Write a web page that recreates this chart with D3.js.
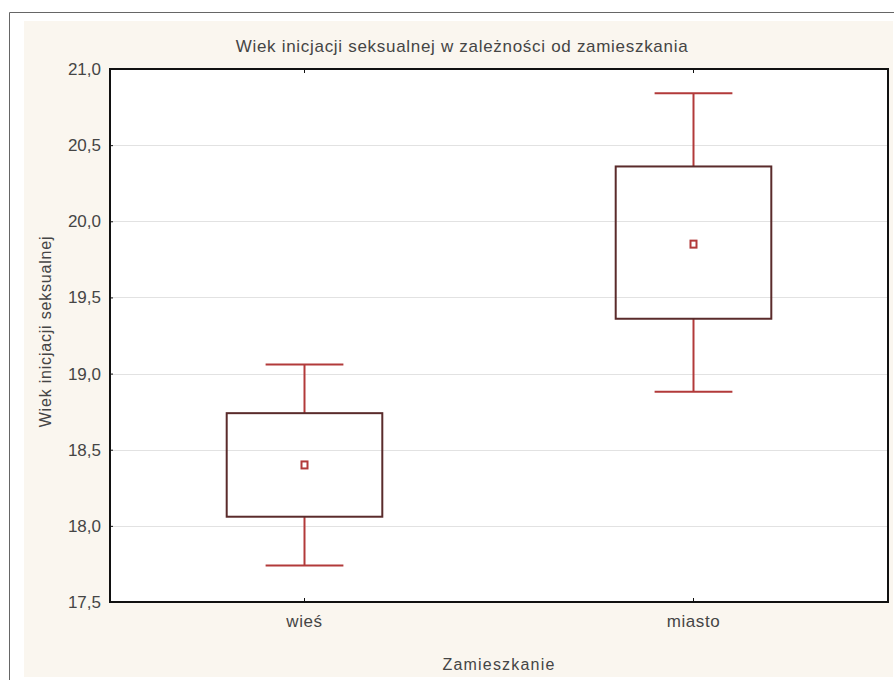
<!DOCTYPE html>
<html>
<head>
<meta charset="utf-8">
<script src="https://cdn.jsdelivr.net/npm/d3@7"></script>
<style>
  html, body { margin: 0; padding: 0; background: #ffffff; }
  svg { display: block; font-family: "Liberation Sans", Arial, sans-serif; }
</style>
</head>
<body>
<svg id="chart" width="894" height="680"></svg>
<script>
// Age of sexual initiation by place of residence: mean, mean ± SE (box), mean ± 1.96 SE (whiskers)
const categories = ["wieś", "miasto"];
const means      = [18.40, 19.85];
const boxLow     = [18.06, 19.36];
const boxHigh    = [18.74, 20.36];
const whiskLow   = [17.74, 18.88];
const whiskHigh  = [19.06, 20.84];
const yTicks     = [17.5, 18.0, 18.5, 19.0, 19.5, 20.0, 20.5, 21.0];

const titleText = "Wiek inicjacji seksualnej w zależności od zamieszkania";
const xTitle = "Zamieszkanie";
const yTitle = "Wiek inicjacji seksualnej";

const svg = d3.select("#chart");
const W = 894, H = 680;
const plot = { left: 110, top: 69, right: 888, bottom: 602 };
const textColor = "#454545";

// outer frame and panel background
svg.append("rect").attr("x", 24).attr("y", 21).attr("width", 869).attr("height", 656)
  .attr("fill", "#faf6ef");
svg.append("path").attr("d", `M9.5,${H} V12.5 H${W}`)
  .attr("fill", "none").attr("stroke", "#666").attr("stroke-width", 1);

const x = d3.scaleBand().domain(categories).range([plot.left, plot.right]).padding(0);
const y = d3.scaleLinear().domain([17.5, 21.0]).range([plot.bottom, plot.top]);

// plot area
svg.append("rect")
  .attr("x", plot.left).attr("y", plot.top)
  .attr("width", plot.right - plot.left).attr("height", plot.bottom - plot.top)
  .attr("fill", "#ffffff");

// horizontal gridlines
svg.append("g").selectAll("line").data(yTicks.slice(1, -1)).join("line")
  .attr("x1", plot.left).attr("x2", plot.right)
  .attr("y1", d => Math.round(y(d)) + 0.5).attr("y2", d => Math.round(y(d)) + 0.5)
  .attr("stroke", "#e2e2e2").attr("stroke-width", 1);

const fmt = d => d.toFixed(1).replace(".", ",");

// y axis
const yAxis = svg.append("g").attr("transform", `translate(${plot.left},0)`)
  .call(d3.axisLeft(y).tickValues(yTicks).tickFormat(fmt).tickSize(-3).tickPadding(9));
yAxis.select(".domain").remove();
yAxis.selectAll("line").attr("stroke", "#111");
yAxis.selectAll("text").attr("font-size", 17).attr("fill", textColor)
  .attr("font-family", "Liberation Sans, Arial, sans-serif");

// x axis
const xAxis = svg.append("g").attr("transform", `translate(0,${plot.bottom})`)
  .call(d3.axisBottom(x).tickSize(-4).tickPadding(13));
xAxis.select(".domain").remove();
xAxis.selectAll("line").attr("stroke", "#111");
xAxis.selectAll("text").attr("font-size", 17).attr("fill", textColor)
  .attr("letter-spacing", 0.6)
  .attr("font-family", "Liberation Sans, Arial, sans-serif");

// top ticks at category positions
svg.append("g").selectAll("line").data(categories).join("line")
  .attr("x1", d => x(d) + x.bandwidth() / 2).attr("x2", d => x(d) + x.bandwidth() / 2)
  .attr("y1", plot.top).attr("y2", plot.top + 4)
  .attr("stroke", "#111");

// plot border
svg.append("rect")
  .attr("x", plot.left).attr("y", plot.top)
  .attr("width", plot.right - plot.left).attr("height", plot.bottom - plot.top)
  .attr("fill", "none").attr("stroke", "#111").attr("stroke-width", 2);

const boxW = x.bandwidth() * 0.4;
const capW = x.bandwidth() * 0.2;
const red = "#b23a3a";
const brown = "#5a2b2b";

const groups = svg.append("g").selectAll("g").data(categories).join("g")
  .attr("transform", d => `translate(${x(d) + x.bandwidth() / 2},0)`);

// whisker stems
groups.append("line")
  .attr("x1", 0).attr("x2", 0)
  .attr("y1", (d, i) => y(whiskHigh[i])).attr("y2", (d, i) => y(boxHigh[i]))
  .attr("stroke", red).attr("stroke-width", 2);
groups.append("line")
  .attr("x1", 0).attr("x2", 0)
  .attr("y1", (d, i) => y(boxLow[i])).attr("y2", (d, i) => y(whiskLow[i]))
  .attr("stroke", red).attr("stroke-width", 2);
// caps
groups.append("line")
  .attr("x1", -capW / 2).attr("x2", capW / 2)
  .attr("y1", (d, i) => y(whiskHigh[i])).attr("y2", (d, i) => y(whiskHigh[i]))
  .attr("stroke", red).attr("stroke-width", 2);
groups.append("line")
  .attr("x1", -capW / 2).attr("x2", capW / 2)
  .attr("y1", (d, i) => y(whiskLow[i])).attr("y2", (d, i) => y(whiskLow[i]))
  .attr("stroke", red).attr("stroke-width", 2);

// boxes
groups.append("rect")
  .attr("x", -boxW / 2).attr("width", boxW)
  .attr("y", (d, i) => y(boxHigh[i]))
  .attr("height", (d, i) => y(boxLow[i]) - y(boxHigh[i]))
  .attr("fill", "none").attr("stroke", brown).attr("stroke-width", 2);

// mean markers
groups.append("rect")
  .attr("x", -3).attr("width", 6)
  .attr("y", (d, i) => y(means[i]) - 3.5).attr("height", 7)
  .attr("fill", "#fff").attr("stroke", red).attr("stroke-width", 2);

// titles
svg.append("text").attr("x", 462).attr("y", 52).attr("text-anchor", "middle")
  .attr("font-size", 17).attr("letter-spacing", 0.7).attr("fill", textColor).text(titleText);
svg.append("text").attr("x", 499).attr("y", 670).attr("text-anchor", "middle")
  .attr("font-size", 16).attr("letter-spacing", 1.2).attr("fill", textColor).text(xTitle);
svg.append("text")
  .attr("transform", `translate(51,${(plot.top + plot.bottom) / 2 - 4}) rotate(-90)`)
  .attr("text-anchor", "middle").attr("font-size", 16).attr("letter-spacing", 0.8)
  .attr("fill", textColor).text(yTitle);
</script>
</body>
</html>
